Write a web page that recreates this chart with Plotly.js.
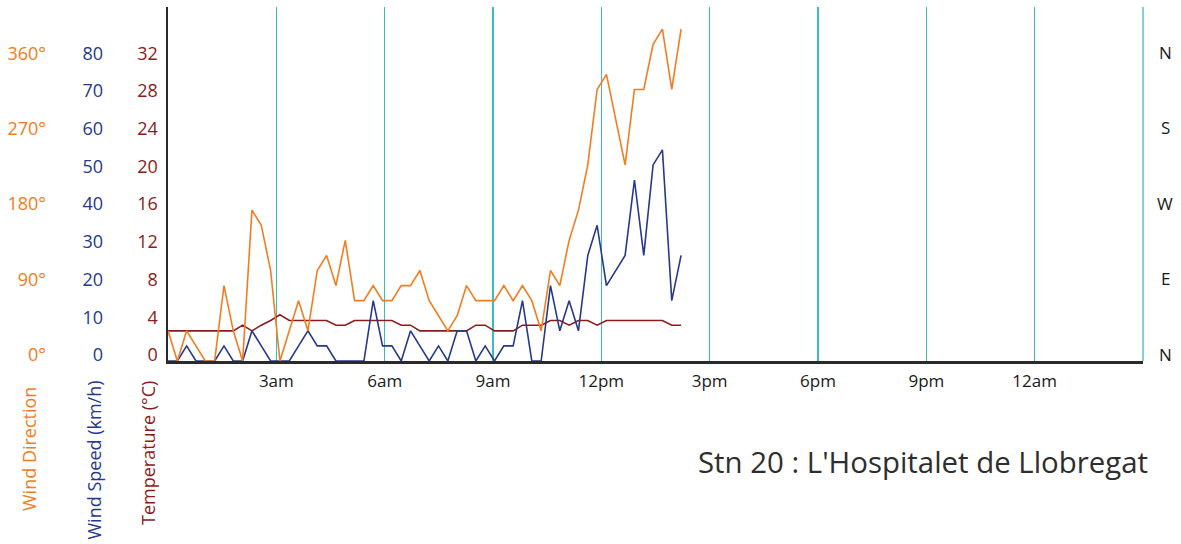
<!DOCTYPE html>
<html><head><meta charset="utf-8">
<script src="https://cdn.plot.ly/plotly-3.0.1.min.js"></script>
<style>html,body{margin:0;padding:0;background:#fff}#chart{width:1181px;height:544px}</style>
</head><body><div id="chart"></div>
<script>
// ---- data ----
// minutes after midnight of each reading
const timeMinutes = [0,15.5,31,46.5,62,77.5,93,108.5,124,139.5,155,170.5,186,201.5,217,232.5,248,263.5,279,294.5,310,325.5,341,356.5,372,387.5,403,418.5,434,449.5,465,480.5,496,511.5,527,542.5,558,573.5,589,604.5,620,635.5,651,666.5,682,697.5,713,728.5,744,759.5,775,790.5,806,821.5,837,852.5];
const windDirection = [36,0,36,18,0,0,90,36,0,180,162,108,0,36,72,36,108,126,90,144,72,72,90,72,72,90,90,108,72,54,36,54,90,72,72,72,90,72,90,72,36,108,90,144,180,234,324,342,288,234,324,324,378,396,324,396];
const windSpeed = [0,0,4,0,0,0,4,0,0,8,4,0,0,0,4,8,4,4,0,0,0,0,16,4,4,0,8,4,0,4,0,8,8,0,4,0,4,4,16,0,0,20,8,16,8,28,36,20,24,28,48,28,52,56,16,28];
const temperature = [3.2,3.2,3.2,3.2,3.2,3.2,3.2,3.2,3.8,3.2,3.8,4.3,4.9,4.3,4.3,4.3,4.3,4.3,3.8,3.8,4.3,4.3,4.3,4.3,4.3,3.8,3.8,3.2,3.2,3.2,3.2,3.2,3.2,3.8,3.8,3.2,3.2,3.2,3.8,3.8,3.8,4.3,4.3,3.8,4.3,4.3,3.8,4.3,4.3,4.3,4.3,4.3,4.3,4.3,3.8,3.8];

const xTickVals = [180,360,540,720,900,1080,1260,1440];
const xTickText = ['3am','6am','9am','12pm','3pm','6pm','9pm','12am'];
const tempTicks = [0,4,8,12,16,20,24,28,32];
const speedTicks = [0,10,20,30,40,50,60,70,80];
const dirTicks = [0,90,180,270,360];
const dirTickText = ['0°','90°','180°','270°','360°'];
const compassVals = [360,270,180,90,0];
const compassText = ['N','S','W','E','N'];
const stationTitle = "Stn 20 : L'Hospitalet de Llobregat";

// ---- styling ----
const FONT = '"Open Sans", sans-serif';
const ORANGE = '#f07d22', NAVY = '#26398a', DARKRED = '#8a1c1c', TEAL = '#3dbcbc', AXIS = '#2a2a2a';
const W = 1181, H = 544, MR = 38, MT = 7, MB = 183;
const PW = W - MR;           // paper width (left margin 0)
const PH = H - MT - MB;      // plot height
const TEMP_MAX = 37.55;      // top of plot in deg C

const traces = [
  {x: timeMinutes, y: windDirection, yaxis: 'y3', type: 'scatter', mode: 'lines',
   line: {color: ORANGE, width: 1.6}, hoverinfo: 'skip'},
  {x: timeMinutes, y: windSpeed, yaxis: 'y2', type: 'scatter', mode: 'lines',
   line: {color: NAVY, width: 1.6}, hoverinfo: 'skip'},
  {x: timeMinutes, y: temperature, yaxis: 'y', type: 'scatter', mode: 'lines',
   line: {color: DARKRED, width: 1.6}, hoverinfo: 'skip'}
];

const baseY = {
  showgrid: false, zeroline: false, ticks: '', fixedrange: true,
  ticklabelshift: -6
};

const annotations = [];
compassVals.forEach((v, i) => annotations.push({
  xref: 'paper', yref: 'y3', x: 1165 / PW, y: v, yshift: 7,
  text: compassText[i], showarrow: false, xanchor: 'center', yanchor: 'middle',
  font: {family: FONT, size: 17, color: '#1a1a1a'}
}));
const axisTitles = [
  {t: 'Wind Direction', x: 29, top: 385, c: ORANGE},
  {t: 'Wind Speed (km/h)', x: 93, top: 379, c: NAVY},
  {t: 'Temperature (°C)', x: 148, top: 379, c: DARKRED}
];
axisTitles.forEach(a => annotations.push({
  xref: 'paper', yref: 'paper', x: a.x / PW, y: (PH + MT - a.top) / PH,
  text: a.t, textangle: -90, showarrow: false, xanchor: 'center', yanchor: 'top',
  font: {family: FONT, size: 18, color: a.c}
}));

const layout = {
  width: W, height: H,
  margin: {l: 0, r: MR, t: MT, b: MB, pad: 0},
  paper_bgcolor: '#fff', plot_bgcolor: '#fff',
  showlegend: false,
  font: {family: FONT, size: 17, color: '#1a1a1a'},
  title: {text: stationTitle, xref: 'container', yref: 'container',
          x: 1148 / W, xanchor: 'right', y: 1 - 463 / H, yanchor: 'middle',
          font: {family: FONT, size: 29.4, color: '#2e2e2e'}},
  xaxis: {
    domain: [168 / PW, 1], range: [0, 1620], fixedrange: true,
    tickvals: xTickVals, ticktext: xTickText, ticks: '',
    showgrid: true, gridcolor: TEAL, gridwidth: 1.3, zeroline: false,
    showline: true, linecolor: AXIS, linewidth: 2.5,
    tickfont: {family: FONT, size: 17, color: '#1a1a1a'}, ticklabelstandoff: 3
  },
  yaxis: Object.assign({}, baseY, {
    range: [0, TEMP_MAX], anchor: 'x', side: 'left',
    tickvals: tempTicks, showline: true, linecolor: AXIS, linewidth: 2.5,
    tickfont: {family: FONT, size: 18, color: DARKRED}, ticklabelstandoff: 4
  }),
  yaxis2: Object.assign({}, baseY, {
    range: [0, TEMP_MAX * 2.5], overlaying: 'y', anchor: 'free', position: 109 / PW, side: 'left',
    tickvals: speedTicks, showline: false,
    tickfont: {family: FONT, size: 18, color: NAVY}, ticklabelstandoff: 6
  }),
  yaxis3: Object.assign({}, baseY, {
    range: [0, TEMP_MAX * 11.25], overlaying: 'y', anchor: 'free', position: 52 / PW, side: 'left',
    tickvals: dirTicks, ticktext: dirTickText, showline: false,
    tickfont: {family: FONT, size: 18, color: ORANGE}, ticklabelstandoff: 6
  }),
  // right-hand frame edge of the plot area
  shapes: [{type: 'line', xref: 'paper', yref: 'paper', x0: 1, x1: 1, y0: 0, y1: 1,
            line: {color: TEAL, width: 1.3}, layer: 'below'}],
  annotations: annotations
};

Plotly.newPlot('chart', traces, layout, {displayModeBar: false, staticPlot: true});
</script></body></html>
